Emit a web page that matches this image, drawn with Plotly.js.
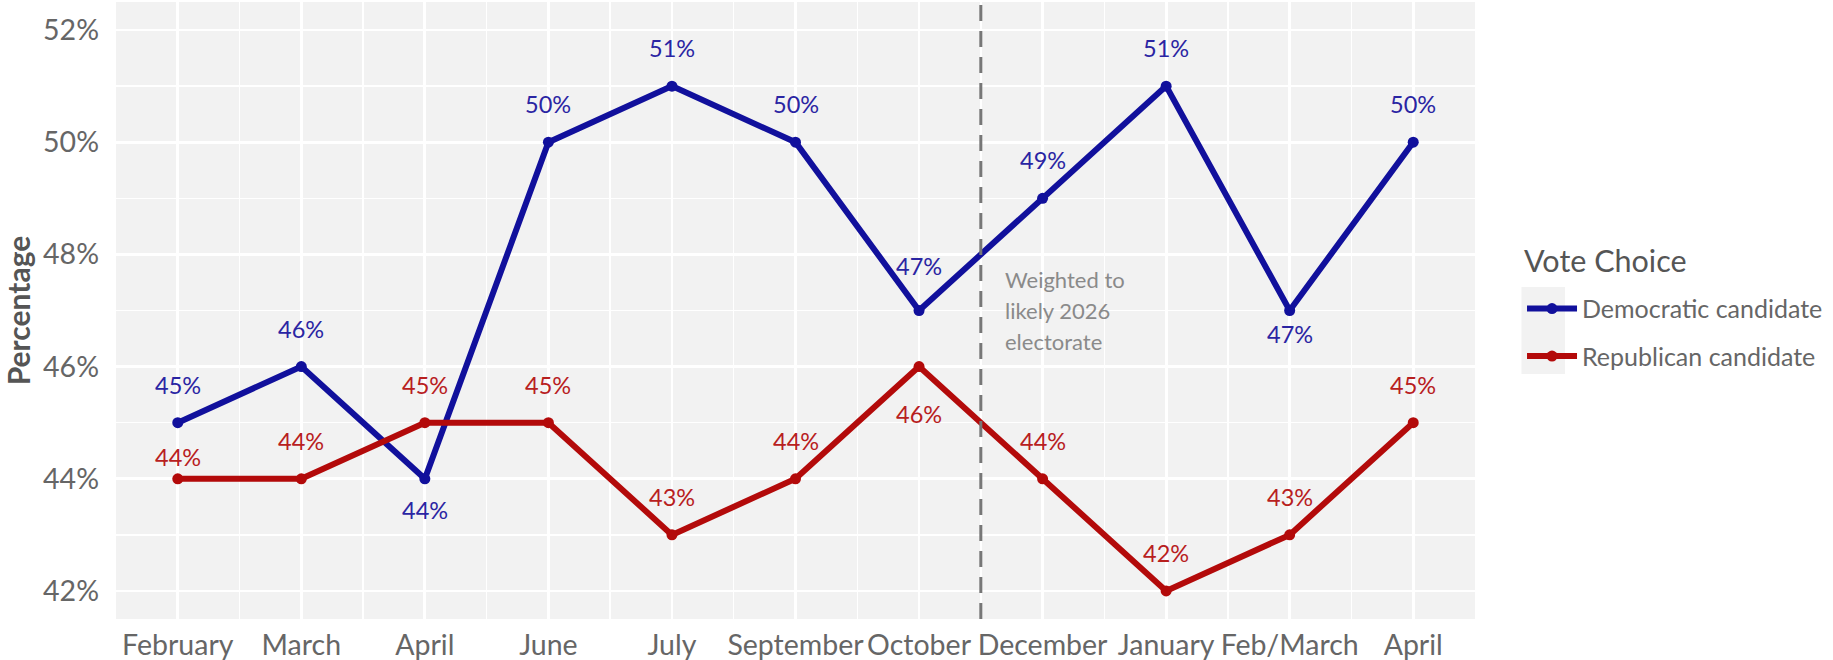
<!DOCTYPE html>
<html>
<head>
<meta charset="utf-8">
<script src="https://cdn.plot.ly/plotly-3.0.1.min.js"></script>
<style>
html,body{margin:0;padding:0;background:#fff;}
#chart{width:1833px;height:660px;}
</style>
</head>
<body>
<div id="chart"></div>
<script>
// ---- data ----
const categories = ["February","March","April","June","July","September","October","December","January","Feb/March","April"];
const demValues = [45,46,44,50,51,50,47,49,51,47,50];
const repValues = [44,44,45,45,43,44,46,44,42,43,45];
const seriesNames = ["Democratic candidate","Republican candidate"];
const legendTitle = "Vote Choice";
const noteLines = ["Weighted to","likely 2026","electorate"];
// label vertical offsets in px (positive = above point)
const demLabelShift = [38,38,-31,38,38,38,45,38,38,-23,38];
const repLabelShift = [22,38,38,38,38,38,-47,38,38,38,38];

const demColor = "#11109c";
const repColor = "#b30a0a";
const xIdx = categories.map((_, i) => i);
const font = "Lato, 'Open Sans', sans-serif";

const traces = [
  {x: xIdx, y: demValues, name: seriesNames[0], type: "scatter", mode: "lines+markers",
   line: {color: demColor, width: 6}, marker: {color: demColor, size: 11}, legendgroup: "d"},
  {x: xIdx, y: repValues, name: seriesNames[1], type: "scatter", mode: "lines+markers",
   line: {color: repColor, width: 6}, marker: {color: repColor, size: 11}, legendgroup: "r"}
];

const annotations = [];
demValues.forEach((v, i) => annotations.push({x: i, y: v, text: v + "%", showarrow: false,
  yshift: demLabelShift[i], font: {family: font, size: 23.5, color: "#2a25a3"}}));
repValues.forEach((v, i) => annotations.push({x: i, y: v, text: v + "%", showarrow: false,
  yshift: repLabelShift[i], font: {family: font, size: 23.5, color: "#b8201e"}}));
const splitX = categories.indexOf("October") + 0.5;
noteLines.forEach((t, i) => annotations.push({x: splitX + 0.18, y: 47, xanchor: "left", yanchor: "middle",
  text: t, showarrow: false, yshift: 31 * (1 - i), font: {family: font, size: 22, color: "#8a8a8a"}}));
annotations.push({xref: "paper", yref: "paper", x: 1.0346, y: 0.5818, xanchor: "left", yanchor: "middle",
  text: legendTitle, showarrow: false, font: {family: font, size: 30.5, color: "#555555"}});

const layout = {
  width: 1833, height: 660,
  margin: {l: 116, r: 358, t: 2, b: 41},
  paper_bgcolor: "#ffffff", plot_bgcolor: "#f2f2f2",
  font: {family: font, color: "#666666"},
  showlegend: true,
  xaxis: {
    type: "linear", range: [-0.5, categories.length - 0.5],
    tickmode: "array", tickvals: xIdx, ticktext: categories,
    showgrid: true, gridcolor: "#ffffff", gridwidth: 2.8,
    zeroline: false, showline: false, ticks: "",
    tickfont: {family: font, size: 28.5, color: "#666666"},
    ticklabelstandoff: 6,
    minor: {tickmode: "array", tickvals: xIdx.slice(1).map(i => i - 0.5), showgrid: true, gridcolor: "#ffffff", gridwidth: 1.4, ticks: ""}
  },
  yaxis: {
    range: [41.5, 52.5], tick0: 42, dtick: 2, ticksuffix: "%",
    showgrid: true, gridcolor: "#ffffff", gridwidth: 2.8,
    zeroline: false, showline: false, ticks: "",
    tickfont: {family: font, size: 28.5, color: "#666666"},
    ticklabelstandoff: 16,
    minor: {dtick: 1, showgrid: true, gridcolor: "#ffffff", gridwidth: 1.4, ticks: ""},
    title: {text: "<b>Percentage</b>", font: {family: font, size: 30, color: "#555555"}, standoff: 8}
  },
  legend: {
    x: 1.0346, y: 0.54, xanchor: "left", yanchor: "top",
    bgcolor: "rgba(0,0,0,0)",
    font: {family: font, size: 25, color: "#666666"},
    tracegroupgap: 12, itemwidth: 50
  },
  shapes: [
    {type: "line", xref: "x", yref: "paper", x0: splitX, x1: splitX, y0: 0, y1: 1,
     line: {color: "#777777", width: 3, dash: "16px,10px"}, layer: "above"},
    {type: "rect", xref: "paper", yref: "paper", x0: 1.0342, x1: 1.0662, y0: 0.397, y1: 0.538,
     fillcolor: "#f2f2f2", line: {width: 0}, layer: "below"}
  ],
  annotations: annotations
};

Plotly.newPlot("chart", traces, layout, {displayModeBar: false, staticPlot: true});
</script>
</body>
</html>
